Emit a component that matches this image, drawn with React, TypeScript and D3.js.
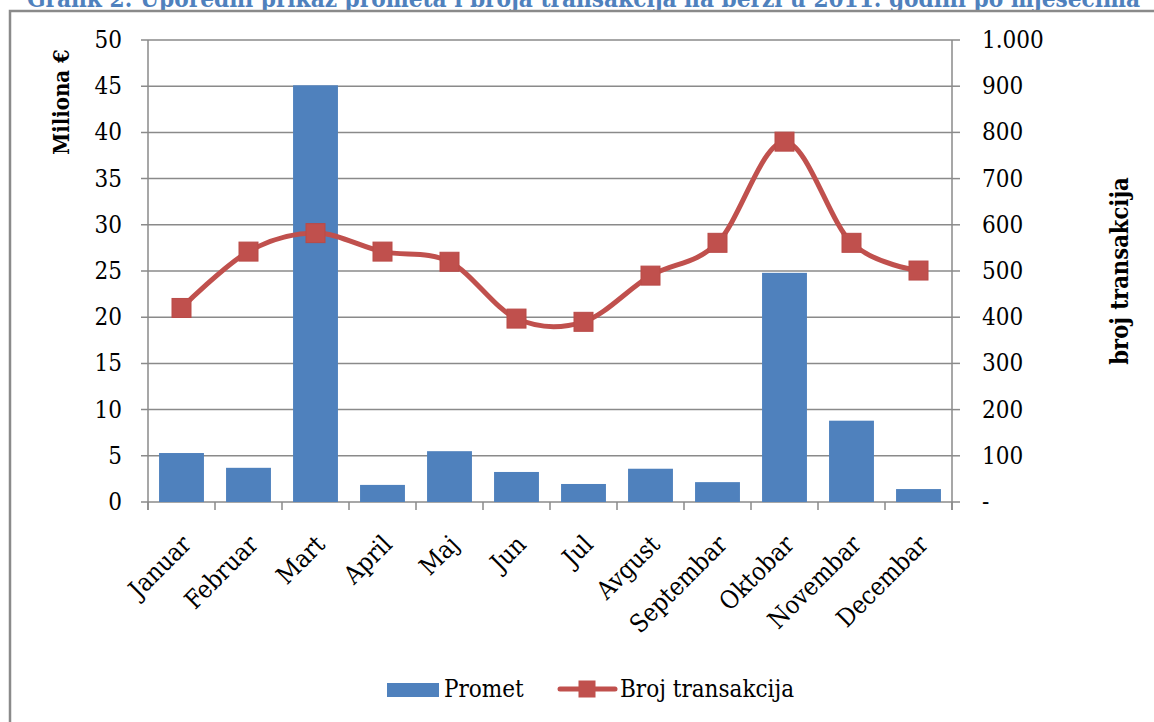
import React from "react";
import * as d3 from "d3";

const months = ["Januar","Februar","Mart","April","Maj","Jun","Jul","Avgust","Septembar","Oktobar","Novembar","Decembar"];
const promet = [5.3, 3.7, 45.1, 1.85, 5.5, 3.25, 1.95, 3.6, 2.15, 24.8, 8.8, 1.4];
const brojTransakcija = [420, 542, 582, 542, 520, 397, 390, 490, 561, 780, 561, 501];
const leftTicks = [0,5,10,15,20,25,30,35,40,45,50];
const rightTicks = [0,100,200,300,400,500,600,700,800,900,1000];
const rightTickLabels = ["-","100","200","300","400","500","600","700","800","900","1.000"];
const title = "Grafik 2: Uporedni prikaz prometa i broja transakcija na berzi u 2011. godini po mjesecima";

const W = 1154, H = 722;
const X0 = 148, X1 = 952, Y0 = 40, Y1 = 502;
const FONT = '"DejaVu Serif Condensed", "DejaVu Serif", serif';
const GRID = "#8a8a8a";
const BLUE = "#4F81BD";
const RED = "#C0504D";

export default function App() {
  const x = d3.scaleBand<string>().domain(months).range([X0, X1]).paddingInner(0.33).paddingOuter(0.165);
  const xp = d3.scalePoint<string>().domain(months).range([X0, X1]).padding(0.5);
  const yL = d3.scaleLinear().domain([0, 50]).range([Y1, Y0]);
  const yR = d3.scaleLinear().domain([0, 1000]).range([Y1, Y0]);
  const step = (X1 - X0) / months.length;
  const line = d3.line<number>()
    .x((_, i) => xp(months[i]) as number)
    .y((d) => yR(d))
    .curve(d3.curveCatmullRom.alpha(0));
  const ms = 19;
  return (
    <svg width={W} height={H} style={{ position: "absolute", left: 0, top: 0, background: "#fff" }} fontFamily={FONT} fontStretch="condensed">
      <rect x={0} y={0} width={W} height={H} fill="#fff" />
      <text x={27} y={7} fontSize={24} fontWeight="bold" fill={BLUE} textLength={1113} lengthAdjust="spacingAndGlyphs">{title}</text>
      <path d={`M10,${H + 5} L10,11 L${W + 5},11`} fill="none" stroke={GRID} strokeWidth={2.5} />
      {leftTicks.map((t) => (
        <line key={"g" + t} x1={X0 - 7} x2={X1} y1={yL(t)} y2={yL(t)} stroke={GRID} strokeWidth={1.5} />
      ))}
      {rightTicks.map((t) => (
        <line key={"rt" + t} x1={X1} x2={X1 + 8} y1={yR(t)} y2={yR(t)} stroke={GRID} strokeWidth={1.5} />
      ))}
      <line x1={X0} x2={X0} y1={Y0} y2={Y1 + 8} stroke={GRID} strokeWidth={1.5} />
      <line x1={X1} x2={X1} y1={Y0} y2={Y1 + 8} stroke={GRID} strokeWidth={1.5} />
      {d3.range(months.length + 1).map((i) => (
        <line key={"xt" + i} x1={X0 + i * step} x2={X0 + i * step} y1={Y1} y2={Y1 + 8} stroke={GRID} strokeWidth={1.5} />
      ))}
      {promet.map((v, i) => (
        <rect key={"b" + i} x={x(months[i])} y={yL(v)} width={x.bandwidth()} height={yL(0) - yL(v)} fill={BLUE} />
      ))}
      <path d={line(brojTransakcija) || ""} fill="none" stroke={RED} strokeWidth={5} strokeLinejoin="round" />
      {brojTransakcija.map((v, i) => (
        <rect key={"m" + i} x={(xp(months[i]) as number) - ms / 2} y={yR(v) - ms / 2} width={ms} height={ms} fill={RED} stroke="#b94a47" strokeWidth={1} />
      ))}
      {leftTicks.map((t) => (
        <text key={"ll" + t} x={122} y={yL(t) + 8} fontSize={24} textAnchor="end" fill="#000">{t}</text>
      ))}
      {rightTicks.map((t, i) => (
        <text key={"rl" + t} x={982} y={yR(t) + 8} fontSize={24} textAnchor="start" fill="#000">{rightTickLabels[i]}</text>
      ))}
      {months.map((m) => {
        const cx = (xp(m) as number) + 11;
        const cy = 546;
        return (
          <text key={"xl" + m} x={cx} y={cy} fontSize={25} textAnchor="end" transform={`rotate(-45 ${cx} ${cy})`} fill="#000">{m}</text>
        );
      })}
      <text x={69} y={102} fontSize={22} fontWeight="bold" textAnchor="middle" transform={`rotate(-90 69 102)`} fill="#000">Miliona €</text>
      <text x={1128} y={271} fontSize={23.5} fontWeight="bold" textAnchor="middle" transform={`rotate(-90 1128 271)`} fill="#000">broj transakcija</text>
      <rect x={387} y={683} width={52} height={14} fill={BLUE} />
      <text x={444} y={697} fontSize={24} fill="#000">Promet</text>
      <line x1={560} x2={615} y1={689} y2={689} stroke={RED} strokeWidth={5} strokeLinecap="round" />
      <rect x={587 - 8.5} y={689 - 8.5} width={17} height={17} fill={RED} />
      <text x={620} y={697} fontSize={24} fill="#000">Broj transakcija</text>
    </svg>
  );
}
